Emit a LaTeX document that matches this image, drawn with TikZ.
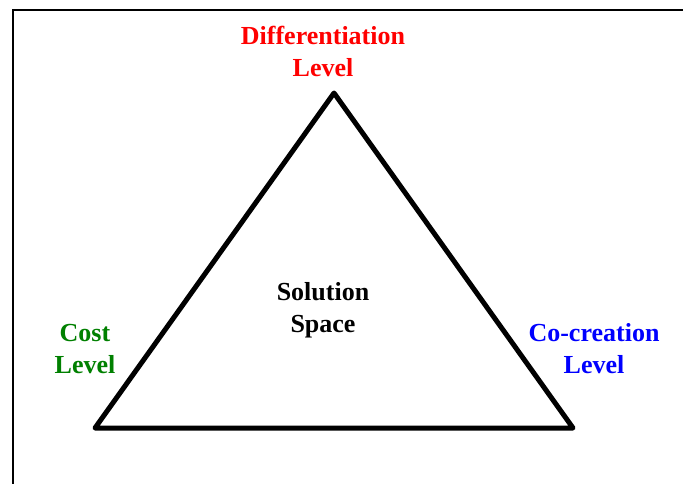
\documentclass[tikz,border=0pt]{standalone}
\usepackage{fontspec}
\setmainfont{Liberation Serif}
\begin{document}
\begin{tikzpicture}[x=1pt,y=-1pt,
  lbl/.style={font=\fontsize{26}{32}\selectfont\bfseries, align=center, inner sep=0pt},
  edge/.style={line width=5pt, line join=round}]
\useasboundingbox (0,0) rectangle (683,484);
\fill[white] (0,0) rectangle (683,484);
% frame on the left and top
\draw[line width=2pt] (12.5,484) -- (12.5,10.5) -- (683,10.5);
% triangle
\coordinate (top) at (334,93);
\coordinate (bl) at (95,428);
\coordinate (br) at (573,428);
\draw[edge] (top) -- (bl) -- (br) -- cycle;
% labels
\node[lbl, text=red] (diff) at (323,51) {Differentiation\\Level};
\node[lbl, text={rgb,255:red,0;green,128;blue,0}] (cost) at (85,349) {Cost\\Level};
\node[lbl, text=blue] (cocr) at (594,349) {Co-creation\\Level};
\node[lbl] (sol) at (323,310) {Solution\\Space};
\end{tikzpicture}
\end{document}
